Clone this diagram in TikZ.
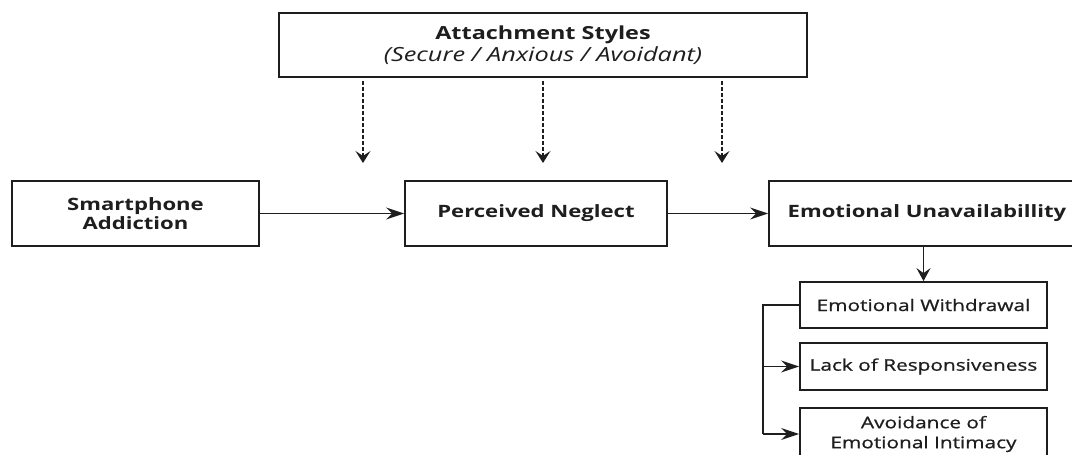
\documentclass[tikz,border=0pt]{standalone}
\usepackage{fontspec}
\setmainfont[FakeStretch=1.3]{Open Sans}
\newfontfamily\subfont[FakeStretch=1.3,FakeBold=0.8]{Open Sans}
\usetikzlibrary{arrows.meta,calc}
\definecolor{ink}{HTML}{1E1E1E}
\tikzset{
  box/.style={draw=ink, line width=1.8pt, fill=white, text=ink, inner sep=0pt, align=center},
  bigbox/.style={box, font=\bfseries\fontsize{17}{19}\selectfont},
  subbox/.style={box, font=\subfont\fontsize{16}{20}\selectfont},
  conn/.style={draw=ink, line width=1.7pt, -{Stealth[length=18pt,width=12pt,inset=6pt]}},
  vconn/.style={draw=ink, line width=1.7pt, -{Stealth[length=13pt,width=14pt,inset=5pt]}},
  dconn/.style={draw=ink, line width=1.5pt, dash pattern=on 4pt off 2pt, -{Stealth[length=12pt,width=15pt,inset=5pt]}}
}
\begin{document}
\begin{tikzpicture}[x=1pt,y=-1pt]
\useasboundingbox (0,0) rectangle (1072,455);
\clip (0,0) rectangle (1072,455);
\node[box, minimum width=528pt, minimum height=64pt] (att) at (543,45)
  {{\bfseries\fontsize{18}{24}\selectfont Attachment Styles}\\[2pt]{\itshape\fontsize{19.5}{24}\selectfont (Secure / Anxious / Avoidant)}};
\node[bigbox, minimum width=247pt, minimum height=65pt] (smart) at (135.5,213.5)
  {Smartphone\\Addiction};
\node[bigbox, minimum width=262pt, minimum height=65pt] (perc) at (536,213.5)
  {Perceived Neglect};
\node[bigbox, minimum width=316pt, minimum height=65pt] (emo) at (927,213.5)
  {Emotional Unavailabillity};
\node[subbox, minimum width=247pt, minimum height=46pt] (wd) at (923.5,305)
  {Emotional Withdrawal};
\node[subbox, minimum width=247pt, minimum height=47pt] (lack) at (923.5,366.5)
  {Lack of Responsiveness};
\node[subbox, minimum width=247pt, minimum height=52pt] (avoid) at (923.5,434)
  {Avoidance of\\Emotional Intimacy};
\coordinate (d1) at (363,163);
\coordinate (d2) at (543,163);
\coordinate (d3) at (722,163);
\coordinate (br) at (763,305);
\draw[dconn] ($(att.south -| d1)+(0,3)$) -- (d1);
\draw[dconn] ($(att.south -| d2)+(0,3)$) -- (d2);
\draw[dconn] ($(att.south -| d3)+(0,3)$) -- (d3);
\draw[conn] (smart) -- (perc);
\draw[conn] (perc) -- (emo);
\draw[vconn] (emo.south -| wd) -- (wd);
\draw[draw=ink, line width=1.7pt] (wd.west) -- (br) -- (br |- avoid.west);
\draw[conn] (br |- lack.west) -- (lack.west);
\draw[conn] (br |- avoid.west) -- (avoid.west);
\end{tikzpicture}
\end{document}
